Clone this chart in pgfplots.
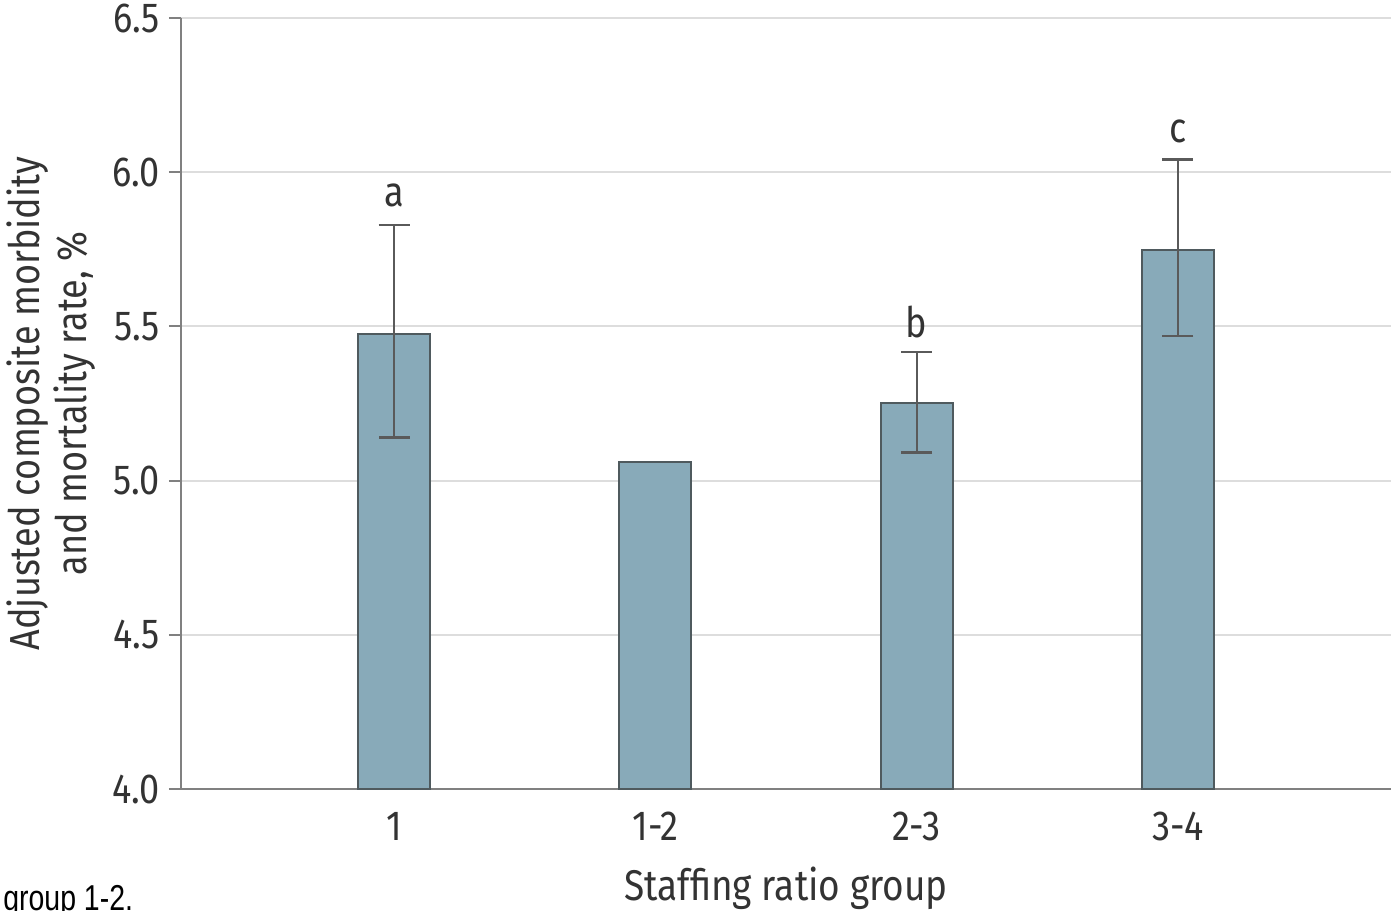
\documentclass[border=0pt]{standalone}
\usepackage{pgfplots}
\pgfplotsset{compat=1.18}
\usepackage{fontspec}
\setmainfont[FakeStretch=0.86]{Fira Sans}
\newfontfamily\capfont[FakeStretch=0.79]{Liberation Sans}
\definecolor{barfill}{HTML}{88AAB9}
\definecolor{baredge}{HTML}{4F5A5E}
\definecolor{gridc}{HTML}{DDDDDD}
\definecolor{axisc}{HTML}{808080}
\definecolor{errc}{HTML}{5A5A5A}
\definecolor{txt}{HTML}{333333}
\begin{document}
\begin{tikzpicture}
\useasboundingbox (-90.5pt,-60.5pt) rectangle (605pt,394.5pt);
\begin{axis}[
  scale only axis,
  width=605pt, height=385.5pt,
  at={(0,0)}, anchor=south west,
  xmin=0.184, xmax=4.816,
  ymin=4.0, ymax=6.5,
  ytick={4.0,4.5,5.0,5.5,6.0,6.5},
  yticklabel style={/pgf/number format/fixed,/pgf/number format/fixed zerofill,/pgf/number format/precision=1},
  xtick={1,2,3,4},
  xticklabels={1,1-2,2-3,3-4},
  major x tick style={draw=none},
  major y tick style={draw=axisc, line width=1pt},
  tick align=outside,
  major tick length=6pt,
  axis x line*=bottom,
  axis y line*=left,
  axis line style={draw=axisc, line width=1.2pt, -},
  ymajorgrids,
  grid style={draw=gridc, line width=1pt},
  tick label style={font=\fontsize{21}{24}\selectfont, text=txt},
  /pgf/number format/assume math mode=true,
  xticklabel style={yshift=-2pt},
  yticklabel style={xshift=-1pt},
  clip=false,
]
\addplot[ybar, bar width=36pt, fill=barfill, draw=baredge, line width=0.9pt, forget plot] coordinates {(1,5.475) (2,5.060) (3,5.252) (4,5.748)};
\addplot[draw=none, mark=none, forget plot,
  error bars/.cd, y dir=both, y explicit,
  error bar style={draw=errc, line width=1pt},
  error mark options={draw=errc, line width=1.4pt, rotate=90, mark size=7.75pt}]
  coordinates {(1,5.475) += (0,0.354) -= (0,0.334)
               (3,5.252) += (0,0.165) -= (0,0.162)
               (4,5.748) += (0,0.292) -= (0,0.279)};
\node[text=txt, font=\fontsize{21}{24}\selectfont] at (axis cs:1,5.925) {a};
\node[text=txt, font=\fontsize{21}{24}\selectfont] at (axis cs:3,5.513) {b};
\node[text=txt, font=\fontsize{21}{24}\selectfont] at (axis cs:4,6.132) {c};
\end{axis}
\node[rotate=90, align=center, text=txt, font=\fontsize{21}{23.5}\selectfont] at (-65pt,192.75pt) {Adjusted composite morbidity\\and mortality rate, \%};
\node[text=txt, font=\fontsize{21.5}{24}\selectfont, anchor=base] at (302.5pt,-55.5pt) {Staffing ratio group};
\node[font=\capfont\fontsize{18}{21}\selectfont, anchor=base west, text=black, inner sep=0pt] at (-89pt,-60.5pt) {group 1-2.};
\end{tikzpicture}
\end{document}
